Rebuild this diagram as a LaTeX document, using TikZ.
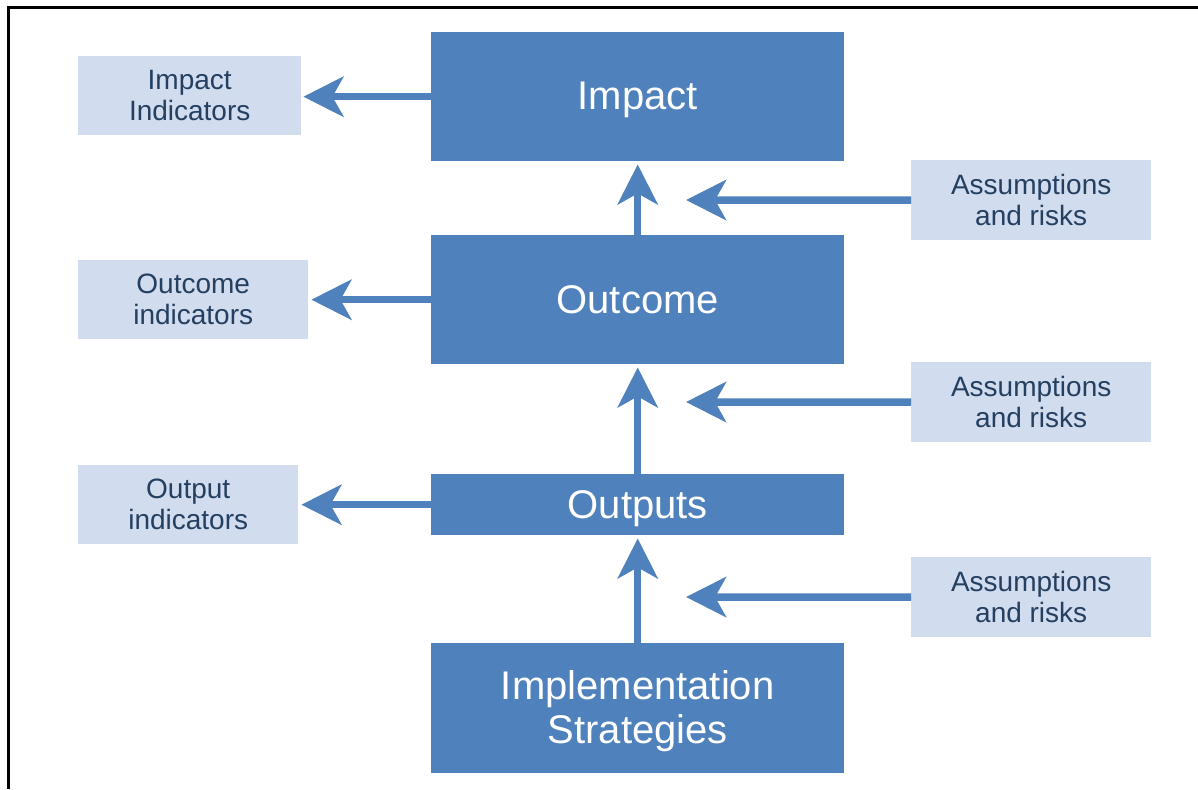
\documentclass[tikz,border=0pt]{standalone}
\usepackage{fontspec}
\setmainfont{Liberation Sans}
\usetikzlibrary{arrows.meta}
\definecolor{mainblue}{HTML}{4F81BD}
\definecolor{lightblue}{HTML}{D1DCEE}
\definecolor{darktext}{HTML}{243F60}
\newcommand\lowtext[1]{\raisebox{-4.5pt}[\height][\depth]{\begin{tabular}{@{}c@{}}#1\end{tabular}}}
\tikzset{
  mainbox/.style={fill=mainblue, draw=none, text=white, anchor=north west, inner sep=0pt,
    font=\fontsize{40}{44}\selectfont},
  sidebox/.style={fill=lightblue, draw=none, text=darktext, anchor=north west, inner sep=0pt,
    font=\fontsize{28}{31}\selectfont, align=center},
  flow/.style={draw=mainblue, line width=7.5pt,
    -{Stealth[length=40pt, width=40pt, inset=11pt, fill=mainblue]}},
}
\begin{document}
\begin{tikzpicture}[x=1pt,y=-1pt]
\useasboundingbox (0,0) rectangle (1198,789);
\draw[line width=3pt] (8,789) -- (8,8) -- (1198,8);
% main column
\node[mainbox, minimum width=413pt, minimum height=129pt] (impact) at (431,32) {\lowtext{Impact}};
\node[mainbox, minimum width=413pt, minimum height=129pt] (outcome) at (431,235) {\lowtext{Outcome}};
\node[mainbox, minimum width=413pt, minimum height=61pt] (outputs) at (431,474) {\lowtext{Outputs}};
\node[mainbox, minimum width=413pt, minimum height=130pt] (impl) at (431,643) {\lowtext{Implementation\\Strategies}};
% indicators
\node[sidebox, minimum width=223pt, minimum height=79pt] (impind) at (78,56) {Impact\\Indicators};
\node[sidebox, minimum width=230pt, minimum height=79pt] (outcind) at (78,260) {Outcome\\indicators};
\node[sidebox, minimum width=220pt, minimum height=79pt] (outpind) at (78,465) {Output\\indicators};
% assumptions
\node[sidebox, minimum width=240pt, minimum height=80pt] (as1) at (911,160) {Assumptions\\and risks};
\node[sidebox, minimum width=240pt, minimum height=80pt] (as2) at (911,362) {Assumptions\\and risks};
\node[sidebox, minimum width=240pt, minimum height=80pt] (as3) at (911,557) {Assumptions\\and risks};
% tips of the assumption arrows
\coordinate (t1) at (686,200);
\coordinate (t2) at (686,402);
\coordinate (t3) at (686,597);
% left arrows
\draw[flow] (impact.west) -- ([xshift=2pt]impind.east |- impact.west);
\draw[flow] (outcome.west) -- ([xshift=3pt]outcind.east |- outcome.west);
\draw[flow] (outputs.west) -- ([xshift=3pt]outpind.east |- outputs.west);
% up arrows
\draw[flow] (outcome.north) -- ([yshift=-3pt]impact.south);
\draw[flow] (outputs.north) -- ([yshift=-3pt]outcome.south);
\draw[flow] (impl.north) -- ([yshift=-3pt]outputs.south);
% assumption arrows
\draw[flow] (as1.west) -- (t1);
\draw[flow] (as2.west) -- (t2);
\draw[flow] (as3.west) -- (t3);
\end{tikzpicture}
\end{document}
